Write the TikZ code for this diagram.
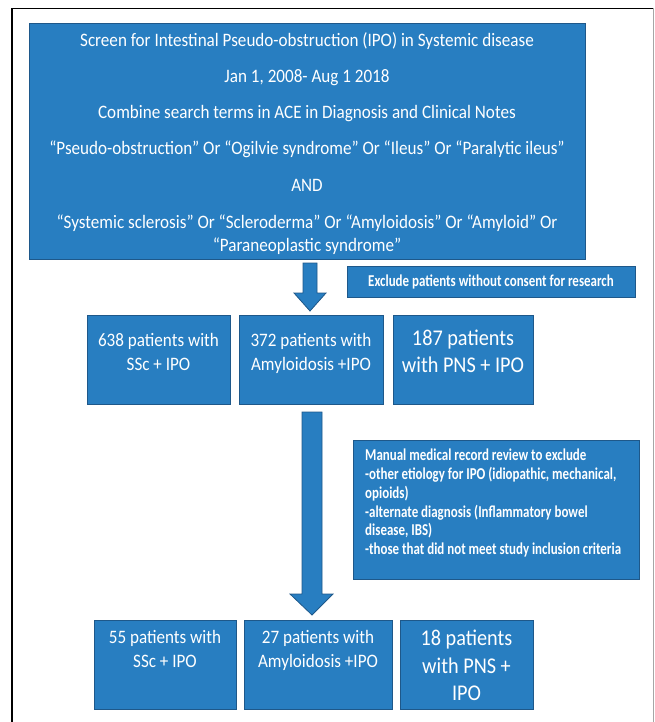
\documentclass[tikz,border=0pt]{standalone}
\usepackage{fontspec}
\setmainfont{Carlito}[FakeStretch=0.9]
\newfontfamily\condfont{Carlito}[FakeStretch=0.78]
\definecolor{boxfill}{RGB}{40,126,193}
\definecolor{boxline}{RGB}{30,88,138}
\begin{document}
\begin{tikzpicture}[x=1pt,y=-1pt,
  bluebox/.style={draw=boxline, line width=1pt, fill=boxfill},
  txt/.style={text=white, inner sep=0pt, anchor=base, font=\fontsize{19}{22}\selectfont},
  bigtxt/.style={txt, font=\fontsize{22.5}{26}\selectfont},
  extxt/.style={text=white, inner sep=0pt, anchor=base west, font=\condfont\bfseries\fontsize{16.6}{19}\selectfont},
  blockarrow/.style={fill=boxfill, draw=boxline, line width=0.8pt}]
\useasboundingbox (0,0) rectangle (655,722);
% frame
\draw[line width=1.5pt] (12,722) -- (12,8.5) -- (653,8.5);
\draw[gray!70, line width=1pt] (653,8.5) -- (653,722);

% top box
\draw[bluebox] (29,24) rectangle (585,259);
\node[txt] (t1) at (307,47) {Screen for Intestinal Pseudo-obstruction (IPO) in Systemic disease};
\node[txt] (t2) at (307,83) {Jan 1, 2008- Aug 1 2018};
\node[txt] (t3) at (307,119) {Combine search terms in ACE in Diagnosis and Clinical Notes};
\node[txt] (t4) at (307,155) {“Pseudo-obstruction” Or “Ogilvie syndrome” Or “Ileus” Or “Paralytic ileus”};
\node[txt] (t5) at (307,191) {AND};
\node[txt] (t6) at (307,228) {“Systemic sclerosis” Or “Scleroderma” Or “Amyloidosis” Or “Amyloid” Or};
\node[txt] (t7) at (307,251) {“Paraneoplastic syndrome”};

% exclusion 1
\draw[bluebox] (347,266) rectangle (635,297);
\node[extxt, anchor=base] (e1) at (491,286) {Exclude patients without consent for research};

% arrow 1
\draw[blockarrow] (303,263) -- (317,263) -- (317,293) -- (326,293) -- (310,311) -- (294,293) -- (303,293) -- cycle;

% middle row
\draw[bluebox] (87,315) rectangle (230,404);
\draw[bluebox] (239,315) rectangle (383,404);
\draw[bluebox] (393,315) rectangle (533,404);
\node[txt] (m1a) at (158.5,346.5) {638 patients with};
\node[txt] (m1b) at (158.5,370.5) {SSc + IPO};
\node[txt] (m2a) at (311,346.5) {372 patients with};
\node[txt] (m2b) at (311,370.5) {Amyloidosis +IPO};
\node[bigtxt] (m3a) at (463,345.5) {187 patients};
\node[bigtxt] (m3b) at (463,372.5) {with PNS + IPO};

% arrow 2
\draw[blockarrow] (302,412) -- (322,412) -- (322,594) -- (333,594) -- (312,615) -- (290,594) -- (302,594) -- cycle;

% exclusion 2
\draw[bluebox] (353,440) rectangle (639,579);
\node[extxt] (x1) at (365,460) {Manual medical record review to exclude};
\node[extxt] (x2) at (365,479) {-other etiology for IPO (idiopathic, mechanical,};
\node[extxt] (x3) at (365,498) {opioids)};
\node[extxt] (x4) at (365,517) {-alternate diagnosis (Inflammatory bowel};
\node[extxt] (x5) at (365,535) {disease, IBS)};
\node[extxt] (x6) at (365,554) {-those that did not meet study inclusion criteria};

% bottom row
\draw[bluebox] (94,620) rectangle (236,709);
\draw[bluebox] (244,620) rectangle (392,709);
\draw[bluebox] (400,620) rectangle (533,709);
\node[txt] (b1a) at (165,643) {55 patients with};
\node[txt] (b1b) at (165,667) {SSc + IPO};
\node[txt] (b2a) at (318,643) {27 patients with};
\node[txt] (b2b) at (318,667) {Amyloidosis +IPO};
\node[bigtxt] (b3a) at (466.5,645) {18 patients};
\node[bigtxt] (b3b) at (466.5,673) {with PNS +};
\node[bigtxt] (b3c) at (466.5,700) {IPO};
\end{tikzpicture}
\end{document}
